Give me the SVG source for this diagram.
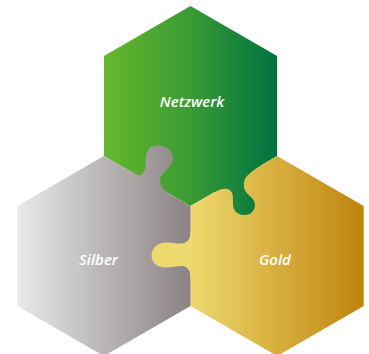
<svg xmlns="http://www.w3.org/2000/svg" width="369" height="354" viewBox="0 0 369 354">
<style>
  .lbl { font-family: "Open Sans", "Liberation Sans", sans-serif; font-size: 15px; font-weight: 600; font-style: italic; fill: #ffffff; text-anchor: middle; }
</style>
<defs>
  <linearGradient id="gGreen" gradientUnits="userSpaceOnUse" x1="103.9" y1="0" x2="277.1" y2="0">
    <stop offset="0" stop-color="#66b82a"/>
    <stop offset="0.5" stop-color="#3a9a34"/>
    <stop offset="1" stop-color="#007242"/>
  </linearGradient>
  <linearGradient id="gGrey" gradientUnits="userSpaceOnUse" x1="17.3" y1="0" x2="190.5" y2="0">
    <stop offset="0" stop-color="#e9e9e9"/>
    <stop offset="1" stop-color="#8a8283"/>
  </linearGradient>
  <linearGradient id="gGold" gradientUnits="userSpaceOnUse" x1="190.5" y1="0" x2="363.7" y2="0">
    <stop offset="0" stop-color="#eed96e"/>
    <stop offset="1" stop-color="#bf840e"/>
  </linearGradient>
</defs>
<g id="netzwerk">
  <path d="M190.5,6 L277.1,56 L277.1,156 L190.5,206 L103.9,156 L103.9,56 Z" fill="url(#gGreen)"/>
</g>
<g id="gold">
  <path d="M277.1,156 L363.7,206 L363.7,306 L277.1,356 L190.5,306 L190.5,206 Z" fill="url(#gGold)"/>
</g>
<g id="silber">
  <path d="M103.9,156 L190.5,206 L190.5,306 L103.9,356 L17.3,306 L17.3,206 Z" fill="url(#gGrey)"/>
</g>
<g id="connectors">
  <path id="tab-silber" d="M128,170 L136,174.5 C141,177 145,172 145.5,166 C146,160 145,155 148,150 C151,145.5 155,145.5 159.5,145.5 C166,145.5 173,151 173,158 C173,165 167,169 162.5,174 C159,178.5 159,186 166,191.8 L170,210 L125,200 Z" fill="url(#gGrey)"/>
  <path id="tab-netzwerk" d="M215,191.9 C224,187 230,188 232,193 C234,198 232,204 234,209 C236,213 240,215 245,215 C251,215 255,210 255,205 C255,199 249,196 246,192 C243,188 243,180 247,176 C250,172.5 255,169 262,164.7 L250,150 L210,175 Z" fill="url(#gGreen)"/>
  <path id="tab-gold" d="M190.5,232 C190.5,238 188,243 182,243.5 C176,244 172,242 165,242.5 C157,243 151.5,249 151.5,255.5 C151.5,262 157,267.5 165,267.5 C172,267.5 177,266 182,266 C188,266.5 190.5,271 190.5,278 L200,278 L200,232 Z" fill="url(#gGold)"/>
</g>
<text class="lbl" x="192" y="107">Netzwerk</text>
<text class="lbl" x="98.5" y="265">Silber</text>
<text class="lbl" x="275" y="265">Gold</text>
</svg>
